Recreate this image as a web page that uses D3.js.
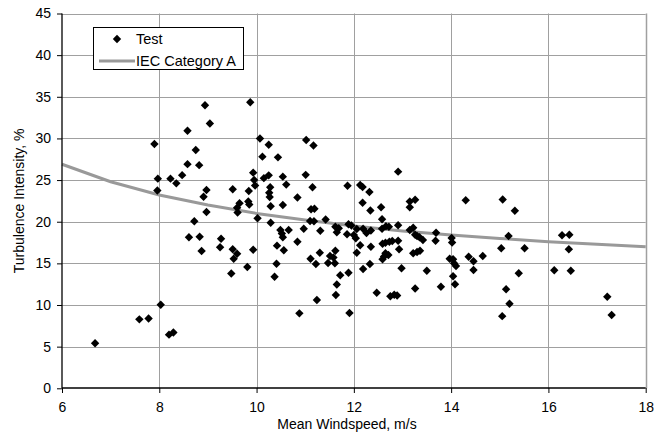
<!DOCTYPE html>
<html><head><meta charset="utf-8">
<script src="https://cdn.jsdelivr.net/npm/d3@7"></script>
<style>
body{margin:0;background:#fff}
svg{display:block}
text{font-family:"Liberation Sans",Arial,sans-serif;fill:#000}
</style>
</head><body>
<svg id="chart" width="657" height="435"></svg>
<script>
// ---- data ----
const testSpeed = [6.68,7.59,7.78,8.03,8.20,8.29,7.90,7.97,7.96,8.23,8.35,8.47,8.58,8.58,8.75,8.82,8.94,9.04,8.97,8.91,
8.97,8.72,8.61,8.83,8.87,9.25,9.27,9.48,9.51,9.53,9.60,9.51,9.65,9.60,9.61,9.84,9.83,9.85,9.87,9.93,
9.95,9.97,10.02,9.81,9.93,10.07,10.12,10.15,10.25,10.25,10.28,10.26,10.27,10.29,10.29,10.44,10.54,10.61,10.54,10.49,
10.52,10.54,10.66,10.42,10.56,10.41,10.37,10.84,10.84,10.88,11.02,11.17,11.01,11.15,11.12,11.19,11.10,11.18,11.42,10.97,
11.31,11.11,11.22,11.24,11.30,11.62,11.69,11.65,11.89,11.95,12.06,11.86,12.00,12.04,11.87,11.62,11.51,11.58,11.47,11.61,
11.72,11.89,11.65,11.63,11.91,12.13,12.18,12.32,12.18,12.34,12.56,12.58,12.91,12.19,12.26,12.35,12.13,12.35,12.06,12.19,
12.33,12.47,12.58,12.66,12.72,12.91,12.59,12.65,12.73,12.79,12.91,12.93,12.65,12.62,12.71,12.59,12.75,12.83,12.89,12.98,
13.15,13.26,13.15,13.15,13.22,13.26,13.30,13.35,13.42,13.22,13.30,13.36,13.26,13.50,13.69,13.68,13.79,14.01,14.02,13.97,
14.04,14.06,14.10,14.04,14.08,14.30,14.36,14.46,14.46,14.65,15.06,15.31,15.18,15.03,15.51,15.39,15.13,15.20,15.05,16.28,
16.43,16.42,16.12,16.46,17.21,17.30];
const testTI = [5.40,8.28,8.38,10.04,6.44,6.70,29.33,25.17,23.75,25.17,24.61,25.59,30.93,26.91,28.61,26.79,33.99,31.79,23.81,22.99,
21.17,20.06,18.13,18.20,16.48,16.93,17.96,13.78,16.69,15.55,16.16,23.89,22.21,21.67,21.11,23.69,22.43,22.07,34.35,25.89,
25.01,24.35,20.41,14.56,16.64,29.99,27.81,25.23,25.57,29.24,24.13,23.48,22.97,21.86,19.87,27.73,25.41,24.46,22.01,19.01,
18.59,18.13,19.01,17.13,16.57,14.95,13.39,22.91,17.59,9.00,29.81,29.15,25.63,24.13,21.50,21.56,20.09,20.05,20.27,19.15,
18.92,15.56,14.92,10.60,16.28,19.40,19.22,18.74,19.70,19.55,19.13,18.49,18.41,18.02,24.31,16.52,15.88,15.70,15.04,15.01,
13.58,13.88,12.46,11.20,9.04,24.41,24.17,23.57,22.27,21.35,21.73,20.29,26.01,19.16,18.65,18.95,17.18,17.00,16.28,14.32,
14.92,11.48,19.16,19.46,19.40,19.57,17.36,17.48,17.60,17.68,17.72,16.69,16.21,15.82,16.00,15.49,11.05,11.23,11.14,14.41,
22.43,22.63,21.73,19.01,19.28,18.44,18.29,18.13,17.81,16.21,16.36,16.52,11.98,14.12,18.67,17.72,12.20,18.05,17.51,15.56,
15.49,15.01,14.68,13.45,12.49,22.58,15.80,15.25,14.20,15.88,22.67,21.32,18.29,16.81,16.82,13.82,11.90,10.15,8.66,18.38,
18.43,16.69,14.17,14.12,11.00,8.80];
const iecSpeed = [6,7,8,9,10,11,12,13,14,15,16,17,18];
const iecTI = [26.9,24.8,23.2,22.0,21.0,20.2,19.5,18.9,18.4,18.0,17.6,17.3,17.0];
const xTicks = [6,8,10,12,14,16,18];
const yTicks = [0,5,10,15,20,25,30,35,40,45];
const seriesNames = ["Test","IEC Category A"];
const xTitle = "Mean Windspeed, m/s";
const yTitle = "Turbulence Intensity, %";

// ---- layout ----
const L = 62, R = 645.7, T = 13.5, B = 388.3;
const svg = d3.select("#chart");
const x = d3.scaleLinear().domain([6,18]).range([L,R]);
const y = d3.scaleLinear().domain([0,45]).range([B,T]);
const gridColor = "#a0a0a0";
const px = v => Math.round(v) + 0.5;
const FS = "14px";

// grid
const grid = svg.append("g");
grid.selectAll("line.h").data(yTicks.filter(d=>d>0)).join("line")
  .attr("x1",L).attr("x2",R).attr("y1",d=>px(y(d))).attr("y2",d=>px(y(d)))
  .attr("stroke",gridColor).attr("stroke-width",1);
grid.selectAll("line.v").data(xTicks.filter(d=>d>6)).join("line")
  .attr("y1",T).attr("y2",B).attr("x1",d=>px(x(d))).attr("x2",d=>px(x(d)))
  .attr("stroke",gridColor).attr("stroke-width",d=>d===18?1.5:1);

// IEC line
const line = d3.line().x((d,i)=>x(iecSpeed[i])).y(d=>y(d));
svg.append("path").datum(iecTI).attr("d",line)
  .attr("fill","none").attr("stroke","#999999").attr("stroke-width",3);

// points
const diamond = "M0,-4.2L4.2,0L0,4.2L-4.2,0Z";
svg.append("g").selectAll("path").data(testSpeed).join("path")
  .attr("d",diamond)
  .attr("transform",(d,i)=>`translate(${x(d)},${y(testTI[i])})`)
  .attr("fill","#000");

// axes
const xAxis = svg.append("g").attr("transform",`translate(0,${px(B)-0.5})`)
  .call(d3.axisBottom(x).tickValues(xTicks).tickSize(5).tickPadding(9).tickFormat(d3.format("d")));
const yAxis = svg.append("g").attr("transform",`translate(${px(L)-0.5},0)`)
  .call(d3.axisLeft(y).tickValues(yTicks).tickSize(5).tickPadding(6).tickFormat(d3.format("d")));
[xAxis,yAxis].forEach(a=>{
  a.select(".domain").attr("stroke","#000").attr("stroke-width",1.3);
  a.selectAll(".tick line").attr("stroke","#000");
  a.selectAll("text").attr("font-size",FS).attr("font-family","'Liberation Sans',Arial,sans-serif").attr("fill","#111");
});
xAxis.select(".domain").attr("d",`M${L},0H${R}`);
yAxis.select(".domain").attr("d",`M0,${B}V${T}`);

// titles
svg.append("text").attr("x",347).attr("y",429).attr("text-anchor","middle")
  .attr("font-size",FS).attr("fill","#111").text(xTitle);
svg.append("text").attr("transform",`translate(24,${(T+B)/2}) rotate(-90)`).attr("text-anchor","middle")
  .attr("font-size",FS).attr("fill","#111").text(yTitle);

// legend
const lg = svg.append("g");
lg.append("rect").attr("x",93.5).attr("y",27.5).attr("width",150).attr("height",42)
  .attr("fill","#fff").attr("stroke","#000").attr("stroke-width",1);
lg.append("path").attr("d",diamond).attr("transform","translate(117,39)").attr("fill","#000");
lg.append("text").attr("x",136).attr("y",44).attr("font-size","14.5px").text(seriesNames[0]);
lg.append("line").attr("x1",99).attr("x2",135).attr("y1",61).attr("y2",61)
  .attr("stroke","#999999").attr("stroke-width",3);
lg.append("text").attr("x",136).attr("y",66).attr("font-size","14.5px").text(seriesNames[1]);
</script>
</body></html>
